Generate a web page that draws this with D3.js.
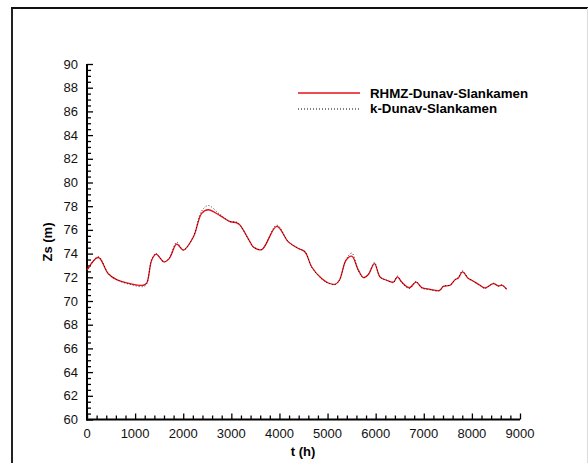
<!DOCTYPE html>
<html><head><meta charset="utf-8">
<script src="https://cdn.jsdelivr.net/npm/d3@7"></script>
<style>body{margin:0;background:#fff}svg{display:block}text{font-family:"Liberation Sans",Arial,sans-serif}</style>
</head><body><svg id="c" width="588" height="463"></svg>
<script>
const seriesNames = ["RHMZ-Dunav-Slankamen", "k-Dunav-Slankamen"];
const hours = [0,235,443,617,894,1171,1240,1344,1435,1601,1712,1864,2003,2211,2384,2522,2765,2973,3112,3181,3389,3458,3632,3944,4185,4393,4532,4671,4879,5017,5156,5246,5385,5503,5641,5745,5849,5974,6091,6230,6369,6451,6542,6701,6840,6958,7131,7325,7408,7547,7651,7720,7803,7928,7997,8170,8274,8447,8551,8620,8724];
const rhmz = [72.6,73.67,72.3,71.8,71.47,71.33,71.5,73.44,73.95,73.3,73.6,74.8,74.3,75.4,77.4,77.7,77.2,76.7,76.6,76.4,74.99,74.56,74.34,76.3,74.99,74.43,74.14,72.87,71.89,71.52,71.41,71.75,73.44,73.78,72.6,71.98,72.24,73.16,72.03,71.75,71.6,72.03,71.6,71.12,71.6,71.13,70.99,70.9,71.24,71.33,71.8,71.94,72.45,71.89,71.75,71.33,71.1,71.47,71.27,71.33,70.99];
const kmodel = [72.55,73.75,72.3,71.8,71.4,71.22,71.45,73.5,74.0,73.3,73.65,74.95,74.3,75.45,77.6,78.05,77.3,76.7,76.65,76.4,74.95,74.55,74.35,76.4,75.0,74.45,74.15,72.85,71.85,71.5,71.38,71.75,73.5,74.05,72.55,71.95,72.25,73.25,72.0,71.75,71.55,72.1,71.55,71.05,71.65,71.1,70.95,70.85,71.25,71.35,71.8,72.0,72.55,71.9,71.75,71.3,71.05,71.5,71.25,71.35,70.95];
const xTicks = [0,1000,2000,3000,4000,5000,6000,7000,8000,9000];
const yTicks = [60,62,64,66,68,70,72,74,76,78,80,82,84,86,88,90];

const svg = d3.select("#c");
const x = d3.scaleLinear().domain([0,9000]).range([87,520]);
const y = d3.scaleLinear().domain([60,90]).range([419.5,64]);

// frame
svg.append("line").attr("x1",12).attr("x2",12).attr("y1",7.5).attr("y2",463).attr("stroke","#222").attr("stroke-width",2);
svg.append("line").attr("x1",11).attr("x2",588).attr("y1",8).attr("y2",8).attr("stroke","#111").attr("stroke-width",2);
svg.append("line").attr("x1",587.5).attr("x2",587.5).attr("y1",8).attr("y2",463).attr("stroke","#ddd").attr("stroke-width",1);

// minor ticks
const yMinor = d3.range(60,90.01,0.5).filter(v=>Math.abs(v/2-Math.round(v/2))>1e-6);
const xMinor = d3.range(0,9000.1,200).filter(v=>v%1000!==0);
const ya = svg.append("g").attr("transform","translate(87,0)")
  .call(d3.axisRight(y).tickValues(yTicks).tickSize(6).tickFormat(""));
svg.append("g").attr("transform","translate(87,0)")
  .call(d3.axisRight(y).tickValues(yMinor).tickSize(4).tickFormat("")).select(".domain").remove();
const xa = svg.append("g").attr("transform","translate(0,419.5)")
  .call(d3.axisTop(x).tickValues(xTicks).tickSize(6).tickFormat(""));
svg.append("g").attr("transform","translate(0,419.5)")
  .call(d3.axisTop(x).tickValues(xMinor).tickSize(4).tickFormat("")).select(".domain").remove();
svg.selectAll(".tick line").attr("stroke","#000").attr("stroke-width",1.3);
ya.select(".domain").attr("stroke","#000").attr("stroke-width",2).attr("d","M0,64V420.5");
xa.select(".domain").attr("stroke","#000").attr("stroke-width",2).attr("d","M86,0H520");

// tick labels
svg.append("g").selectAll("text").data(yTicks).join("text")
  .attr("x",78).attr("y",d=>y(d)+4.5).attr("text-anchor","end").attr("font-size",13).attr("fill","#111").text(d=>d);
svg.append("g").selectAll("text").data(xTicks).join("text")
  .attr("x",d=>x(d)).attr("y",438).attr("text-anchor","middle").attr("font-size",13).attr("fill","#111").text(d=>d);

// axis titles
svg.append("text").attr("x",303).attr("y",456).attr("text-anchor","middle").attr("font-size",13).attr("font-weight","bold").text("t (h)");
svg.append("text").attr("transform","translate(52,242) rotate(-90)").attr("text-anchor","middle").attr("font-size",13).attr("font-weight","bold").text("Zs (m)");

// lines
const line = d3.line().x((d,i)=>x(hours[i])).y(d=>y(d)).curve(d3.curveCatmullRom.alpha(0.5));
svg.append("path").attr("d",line(rhmz)).attr("fill","none").attr("stroke","#e8111a").attr("stroke-width",1.3);
svg.append("path").attr("d",line(kmodel)).attr("fill","none").attr("stroke","#000").attr("stroke-width",1).attr("stroke-dasharray","1,2").attr("opacity",0.8);

// legend
const lg = svg.append("g");
lg.append("line").attr("x1",298).attr("x2",360).attr("y1",93).attr("y2",93).attr("stroke","#e8111a").attr("stroke-width",1.3);
lg.append("line").attr("x1",298).attr("x2",360).attr("y1",109).attr("y2",109).attr("stroke","#000").attr("stroke-width",1).attr("stroke-dasharray","1,2");
lg.append("text").attr("x",370).attr("y",97.5).attr("font-size",13.3).attr("font-weight","bold").text(seriesNames[0]);
lg.append("text").attr("x",370).attr("y",113).attr("font-size",13.3).attr("font-weight","bold").text(seriesNames[1]);
</script></body></html>
